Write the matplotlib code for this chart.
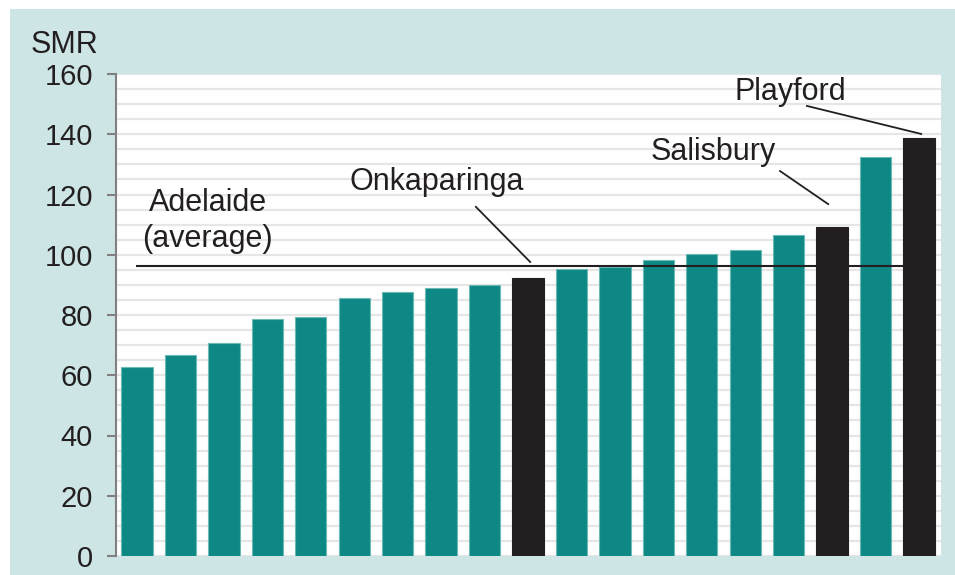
# standardised mortality ratio by council area, sorted low to high

import matplotlib.pyplot as plt
from matplotlib.patches import Rectangle

smr = [62.7, 66.7, 70.7, 78.7, 79.3, 85.6, 87.6, 89.0, 90.1, 92.3,
       95.3, 96.0, 98.1, 100.2, 101.5, 106.6, 109.2, 132.3, 138.9]
highlight = [9, 16, 18]  # Onkaparinga, Salisbury, Playford
adelaide_avg = 96.4

yticks = [0, 20, 40, 60, 80, 100, 120, 140, 160]

teal = '#0E8884'
dark = '#231F20'
panel = '#CDE6E5'


def main():
    plt.rcParams['font.family'] = ['Liberation Sans', 'DejaVu Sans']

    fig = plt.figure(figsize=(9.55, 5.75), dpi=100)
    fig.patch.set_facecolor('white')
    # light teal panel behind the chart
    fig.patches.append(Rectangle((10 / 955, 0), 945 / 955, 566 / 575,
                                 transform=fig.transFigure, facecolor=panel,
                                 edgecolor='none', zorder=-5))

    ax = fig.add_axes([116 / 955, 19 / 575, 825 / 955, 482 / 575])
    ax.set_facecolor('white')

    x = list(range(len(smr)))
    colors = [dark if i in highlight else teal for i in x]
    edges = [dark if i in highlight else '#6BB8B5' for i in x]
    ax.bar(x, smr, width=0.72, color=colors, edgecolor=edges,
           linewidth=0.8, zorder=3)

    # minor grid every 5
    for v in range(0, 161, 5):
        ax.axhline(v, color='#E6E6E6', lw=1.6, zorder=1)

    # Adelaide average line
    ax.plot([-0.03, 17.63], [adelaide_avg, adelaide_avg], color=dark,
            lw=1.5, zorder=4, solid_capstyle='butt')

    ax.set_xlim(-0.483, 18.506)
    ax.set_ylim(0, 160)
    ax.set_yticks(yticks)
    ax.set_xticks([])
    ax.tick_params(axis='y', length=6.5, width=1.5, color='#808080',
                   labelsize=21, pad=10, labelcolor='#231F20')
    for s in ['top', 'right', 'bottom']:
        ax.spines[s].set_visible(False)
    ax.spines['left'].set_color('#808080')
    ax.spines['left'].set_linewidth(1.5)

    txt = dict(fontsize=22, color='#231F20', ha='center', va='center', zorder=5)
    ax.text(1.63, 111.2, 'Adelaide\n(average)', linespacing=1.25, **txt)
    ax.text(6.91, 124.1, 'Onkaparinga', **txt)
    ax.text(13.26, 134.1, 'Salisbury', **txt)
    ax.text(15.03, 154.0, 'Playford', **txt)

    # leader lines to the highlighted bars
    lk = dict(color=dark, lw=1.3, zorder=5)
    ax.plot([7.80, 9.05], [115.9, 97.6], **lk)
    ax.plot([14.80, 15.91], [127.8, 116.8], **lk)
    ax.plot([15.42, 18.05], [149.4, 140.1], **lk)

    fig.text(64 / 955, 1 - 45 / 575, 'SMR', fontsize=22, color='#231F20',
             ha='center', va='center')

    fig.savefig('out.png', dpi=100, facecolor=fig.get_facecolor())


main()
